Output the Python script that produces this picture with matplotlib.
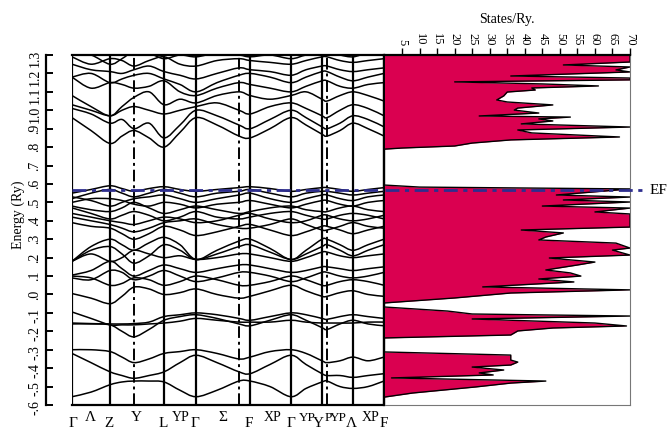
import numpy as np
import matplotlib
matplotlib.use('Agg')
import matplotlib.pyplot as plt
from matplotlib.path import Path
from matplotlib.patches import PathPatch

plt.rcParams['font.family'] = ['Liberation Serif', 'DejaVu Serif']

#k-path sample positions (path length units) and high symmetry lines
k_pts = [0, 19, 38, 50, 62, 77, 92, 108, 124, 145, 167, 178, 198, 219, 234, 250, 255, 268, 281, 296, 312]
k_solid = [0, 38, 92, 124, 178, 219, 250, 281, 312]
k_dash = [62, 167, 255]

#k labels: text, position, raised or not, size
k_labels = ['Γ', 'Λ', 'Z', 'Y', 'L', 'YP', 'Γ', 'Σ', 'F', 'XP', 'Γ', 'YP', 'Y', 'P', 'YP', 'Λ', 'XP', 'F']
k_label_pos = [1, 18, 37, 64, 91, 109, 123, 151, 177, 201, 219, 235, 246, 256, 266, 279, 299, 312]
k_label_up = [0, 1, 0, 1, 0, 1, 0, 1, 0, 1, 0, 1, 0, 1, 1, 0, 1, 0]
k_label_size = [11, 11, 11, 11, 11, 10, 11, 11, 11, 10, 11, 9.5, 11, 9.5, 9.5, 11, 10, 11]

#energy axis ticks
e_ticks = [-0.6, -0.5, -0.4, -0.3, -0.2, -0.1, 0.0, 0.1, 0.2, 0.3, 0.4, 0.5, 0.6, 0.7, 0.8, 0.9, 1.0, 1.1, 1.2, 1.3]
e_tick_labels = ['-.6', '-.5', '-.4', '-.3', '-.2', '-.1', '.0', '.1', '.2', '.3', '.4', '.5', '.6', '.7', '.8', '.9',
                 '1.0', '1.1', '1.2', '1.3']
dos_ticks = [5, 10, 15, 20, 25, 30, 35, 40, 45, 50, 55, 60, 65, 70]

#band energies (Ry) at k_pts
bands = [
    [-0.555, -0.53, -0.49, -0.475, -0.47, -0.47, -0.475, -0.52, -0.555, -0.52, -0.47, -0.47, -0.50, -0.555, -0.51, -0.475, -0.47, -0.50, -0.51, -0.50, -0.47],
    [-0.32, -0.37, -0.42, -0.44, -0.455, -0.44, -0.42, -0.37, -0.33, -0.37, -0.42, -0.43, -0.38, -0.33, -0.38, -0.43, -0.44, -0.44, -0.45, -0.44, -0.43],
    [-0.30, -0.30, -0.31, -0.34, -0.37, -0.35, -0.32, -0.31, -0.30, -0.32, -0.35, -0.34, -0.31, -0.30, -0.32, -0.36, -0.37, -0.36, -0.34, -0.36, -0.34],
    [-0.16, -0.16, -0.165, -0.20, -0.23, -0.19, -0.14, -0.12, -0.11, -0.13, -0.16, -0.17, -0.14, -0.11, -0.14, -0.18, -0.19, -0.16, -0.14, -0.16, -0.17],
    [-0.095, -0.13, -0.165, -0.165, -0.165, -0.16, -0.155, -0.145, -0.13, -0.14, -0.15, -0.15, -0.15, -0.14, -0.15, -0.155, -0.155, -0.155, -0.155, -0.15, -0.15],
    [-0.155, -0.158, -0.16, -0.16, -0.158, -0.15, -0.12, -0.11, -0.10, -0.11, -0.13, -0.14, -0.12, -0.10, -0.11, -0.13, -0.135, -0.12, -0.11, -0.12, -0.13],
    [0.005, -0.02, -0.05, -0.01, 0.04, 0.03, 0.0, 0.01, 0.03, 0.0, -0.02, -0.01, 0.02, 0.05, 0.02, -0.01, -0.01, 0.01, 0.02, 0.0, -0.01],
    [0.10, 0.09, 0.05, 0.06, 0.09, 0.08, 0.05, 0.07, 0.10, 0.08, 0.05, 0.05, 0.07, 0.10, 0.08, 0.05, 0.05, 0.07, 0.08, 0.07, 0.05],
    [0.09, 0.08, 0.13, 0.12, 0.08, 0.10, 0.13, 0.10, 0.07, 0.09, 0.12, 0.12, 0.10, 0.07, 0.09, 0.12, 0.12, 0.10, 0.09, 0.10, 0.12],
    [0.105, 0.13, 0.18, 0.14, 0.10, 0.13, 0.16, 0.14, 0.12, 0.14, 0.16, 0.16, 0.14, 0.12, 0.13, 0.15, 0.15, 0.14, 0.13, 0.14, 0.15],
    [0.18, 0.22, 0.18, 0.20, 0.24, 0.22, 0.20, 0.21, 0.19, 0.20, 0.22, 0.22, 0.20, 0.18, 0.20, 0.23, 0.23, 0.21, 0.20, 0.21, 0.22],
    [0.18, 0.24, 0.26, 0.22, 0.17, 0.21, 0.27, 0.24, 0.19, 0.22, 0.26, 0.27, 0.23, 0.19, 0.22, 0.26, 0.27, 0.24, 0.21, 0.24, 0.27],
    [0.18, 0.26, 0.30, 0.27, 0.24, 0.28, 0.31, 0.27, 0.19, 0.24, 0.29, 0.30, 0.25, 0.19, 0.24, 0.30, 0.30, 0.27, 0.24, 0.27, 0.30],
    [0.39, 0.37, 0.36, 0.33, 0.30, 0.33, 0.37, 0.35, 0.32, 0.34, 0.37, 0.38, 0.35, 0.32, 0.34, 0.37, 0.37, 0.35, 0.33, 0.35, 0.37],
    [0.42, 0.40, 0.38, 0.36, 0.34, 0.36, 0.39, 0.40, 0.41, 0.38, 0.36, 0.36, 0.38, 0.41, 0.38, 0.35, 0.35, 0.37, 0.39, 0.37, 0.36],
    [0.44, 0.42, 0.40, 0.39, 0.38, 0.40, 0.42, 0.41, 0.39, 0.40, 0.43, 0.44, 0.41, 0.39, 0.40, 0.43, 0.43, 0.41, 0.40, 0.41, 0.43],
    [0.47, 0.44, 0.41, 0.43, 0.45, 0.43, 0.40, 0.42, 0.45, 0.42, 0.41, 0.42, 0.44, 0.45, 0.43, 0.41, 0.41, 0.43, 0.44, 0.43, 0.41],
    [0.48, 0.46, 0.45, 0.47, 0.50, 0.47, 0.44, 0.46, 0.48, 0.46, 0.44, 0.45, 0.47, 0.48, 0.46, 0.45, 0.45, 0.47, 0.48, 0.46, 0.45],
    [0.50, 0.52, 0.52, 0.51, 0.49, 0.48, 0.50, 0.49, 0.47, 0.49, 0.50, 0.51, 0.49, 0.47, 0.49, 0.51, 0.51, 0.49, 0.48, 0.50, 0.51],
    [0.53, 0.51, 0.48, 0.50, 0.52, 0.53, 0.54, 0.52, 0.50, 0.52, 0.54, 0.55, 0.52, 0.50, 0.52, 0.54, 0.54, 0.52, 0.51, 0.53, 0.54],
    [0.52, 0.55, 0.57, 0.55, 0.53, 0.55, 0.57, 0.55, 0.53, 0.55, 0.56, 0.57, 0.55, 0.53, 0.55, 0.56, 0.56, 0.55, 0.54, 0.55, 0.56],
    [0.55, 0.57, 0.59, 0.575, 0.56, 0.575, 0.585, 0.57, 0.56, 0.57, 0.58, 0.585, 0.575, 0.56, 0.57, 0.58, 0.58, 0.57, 0.56, 0.57, 0.58],
    [0.96, 0.89, 0.82, 0.86, 0.89, 0.85, 0.80, 0.88, 0.96, 0.92, 0.86, 0.85, 0.90, 0.96, 0.92, 0.87, 0.86, 0.89, 0.93, 0.90, 0.86],
    [1.01, 0.98, 0.93, 0.95, 0.90, 0.93, 0.85, 0.92, 1.00, 0.97, 0.92, 0.90, 0.95, 1.00, 0.96, 0.91, 0.90, 0.93, 0.97, 0.95, 0.91],
    [1.03, 1.00, 0.97, 1.00, 1.02, 1.00, 0.98, 1.00, 1.02, 1.04, 1.00, 0.98, 1.02, 1.04, 1.01, 0.97, 0.96, 1.00, 1.03, 1.01, 0.97],
    [1.08, 1.02, 0.97, 1.02, 1.07, 1.10, 1.03, 1.06, 1.04, 1.08, 1.10, 1.08, 1.06, 1.08, 1.10, 1.06, 1.05, 1.08, 1.10, 1.08, 1.05],
    [1.18, 1.12, 1.15, 1.14, 1.12, 1.13, 1.16, 1.10, 1.08, 1.12, 1.15, 1.14, 1.12, 1.10, 1.13, 1.16, 1.16, 1.13, 1.12, 1.14, 1.15],
    [1.18, 1.20, 1.15, 1.17, 1.19, 1.20, 1.17, 1.14, 1.10, 1.15, 1.19, 1.20, 1.18, 1.15, 1.18, 1.21, 1.21, 1.18, 1.16, 1.18, 1.20],
    [1.25, 1.22, 1.21, 1.20, 1.22, 1.24, 1.21, 1.19, 1.17, 1.20, 1.23, 1.22, 1.21, 1.19, 1.22, 1.24, 1.24, 1.22, 1.21, 1.22, 1.23],
    [1.29, 1.25, 1.28, 1.27, 1.24, 1.27, 1.29, 1.25, 1.24, 1.27, 1.28, 1.27, 1.26, 1.25, 1.27, 1.29, 1.29, 1.27, 1.26, 1.27, 1.28],
    [1.31, 1.30, 1.25, 1.28, 1.32, 1.31, 1.28, 1.30, 1.29, 1.31, 1.30, 1.29, 1.30, 1.28, 1.30, 1.31, 1.32, 1.30, 1.29, 1.31, 1.30],
]

#density of states (energy in Ry, states/Ry)
dos_energy = [1.300, 1.284, 1.262, 1.246, 1.235, 1.219, 1.208, 1.186, 1.175, 1.165, 1.154, 1.143, 1.132, 1.121,
              1.110, 1.099, 1.078, 1.056, 1.045, 1.029, 1.012, 1.001, 0.985, 0.969, 0.963, 0.953, 0.942, 0.926,
              0.909, 0.893, 0.877, 0.855, 0.839, 0.822, 0.806, 0.795, 0.789,
              0.594, 0.583, 0.573, 0.540, 0.529, 0.513, 0.502, 0.480, 0.469, 0.448, 0.437, 0.366, 0.350, 0.334,
              0.312, 0.296, 0.279, 0.252, 0.241, 0.214, 0.198, 0.176, 0.160, 0.133, 0.117, 0.100, 0.084, 0.068,
              0.041, 0.025, 0.008, -0.019, -0.046, -0.068, -0.090, -0.106, -0.117, -0.133, -0.155, -0.171,
              -0.182, -0.198, -0.220, -0.236, -0.312, -0.329, -0.356, -0.367, -0.383, -0.394, -0.410, -0.426,
              -0.437, -0.453, -0.470, -0.481, -0.502, -0.535, -0.557, -0.600]
dos_value = [70, 70, 70, 51, 70, 66, 70, 36, 70, 70, 20, 45, 61, 42,
             43, 35, 34, 32, 35, 48, 38, 37, 44, 27, 53, 44, 48, 39,
             70, 38, 42, 67, 36, 25, 20, 5, 0,
             0, 10, 70, 49, 70, 51, 70, 45, 70, 60, 70, 70, 39, 51,
             46, 44, 66, 70, 65, 70, 47, 60, 55, 46, 53, 56, 44, 54,
             28, 70, 36, 20, 0, 0, 18, 25, 70, 25, 60, 69,
             48, 38, 36, 0, 0, 36, 36, 38, 36, 25, 34, 27,
             31, 2, 46, 36, 26, 8, 0, 0]

e_fermi = 0.567
dos_color = '#DA0050'
ef_color = '#2E2E8E'


def smooth_path(x, y):
    #catmull-rom style curve through the read points
    verts = [(x[0], y[0])]
    codes = [Path.MOVETO]
    n = len(x)
    for i in range(n - 1):
        i0 = max(i - 1, 0)
        i3 = min(i + 2, n - 1)
        c1 = (x[i] + (x[i + 1] - x[i0]) / 6, y[i] + (y[i + 1] - y[i0]) / 6)
        c2 = (x[i + 1] - (x[i3] - x[i]) / 6, y[i + 1] - (y[i3] - y[i]) / 6)
        verts += [c1, c2, (x[i + 1], y[i + 1])]
        codes += [Path.CURVE4] * 3
    return Path(verts, codes)


W, H = 669, 434
fig = plt.figure(figsize=(W / 100, H / 100), dpi=100)

ax = fig.add_axes([72 / W, 1 - 405 / H, (384 - 72) / W, 350 / H])
ax2 = fig.add_axes([384.5 / W, 1 - 405 / H, (630 - 384.5) / W, 350 / H])

#band structure
for b in bands:
    ax.add_patch(PathPatch(smooth_path(k_pts, b), facecolor='none', edgecolor='black', lw=1.1))
for k in k_solid:
    ax.axvline(k, color='black', lw=1.6)
for k in k_dash:
    ax.axvline(k, color='black', lw=1.4, ls=(0, (6, 2, 1.5, 2)))
ax.axhline(e_fermi, color=ef_color, lw=2.0, ls=(0, (5, 2, 1.5, 2)), zorder=5)

ax.set_xlim(0, 312)
ax.set_ylim(-0.6, 1.3)
ax.set_xticks([])
ax.set_yticks(e_ticks)
ax.set_yticklabels(e_tick_labels, fontsize=10)
ax.tick_params(axis='y', direction='in', length=5, width=1.4, pad=3, labelrotation=90)
for lab in ax.get_yticklabels():
    lab.set_va('center')
ax.spines['left'].set_position(('outward', 19))
for s in ['left', 'top', 'bottom', 'right']:
    ax.spines[s].set_linewidth(1.6)

for t, p, up, fs in zip(k_labels, k_label_pos, k_label_up, k_label_size):
    ax.text(p, -0.037 if up else -0.052, t, transform=ax.get_xaxis_transform(),
            ha='center', va='center', fontsize=fs)

#density of states
ax2.fill_betweenx(dos_energy, 0, dos_value, color=dos_color, lw=0)
ax2.plot(dos_value, dos_energy, color='black', lw=1.0)
ax2.set_xlim(0, 70)
ax2.set_ylim(-0.6, 1.3)
ax2.set_yticks([])
ax2.xaxis.tick_top()
ax2.set_xticks(dos_ticks)
ax2.set_xticklabels([str(v) for v in dos_ticks], rotation=-90, fontsize=9)
ax2.tick_params(axis='x', direction='out', length=5, width=1.0, pad=2)
ax2.spines['left'].set_visible(False)
ax2.spines['top'].set_linewidth(1.6)
ax2.spines['right'].set_color('#777777')
ax2.spines['bottom'].set_color('#777777')
ax2.plot([0, 74], [e_fermi, e_fermi], color=ef_color, lw=2.0, ls=(0, (5, 2, 1.5, 2)),
         clip_on=False, zorder=5)
ax2.text(75.5, e_fermi, 'EF', ha='left', va='center', fontsize=11, clip_on=False)

ax2.set_title('States/Ry.', fontsize=10, pad=23)
fig.text(18 / W, 1 - 215 / H, 'Energy (Ry)', rotation=90, ha='center', va='center', fontsize=10)

plt.savefig('out.png', dpi=100)
